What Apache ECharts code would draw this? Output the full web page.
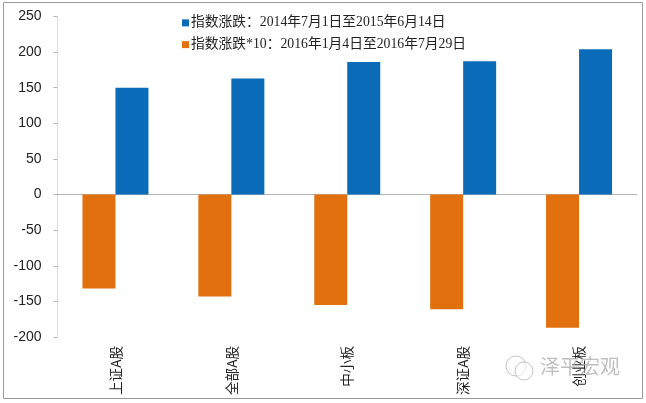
<!DOCTYPE html>
<html><head><meta charset="utf-8">
<style>html,body{margin:0;padding:0;background:#fff}#c{width:646px;height:403px}</style>
<script src="https://cdn.jsdelivr.net/npm/echarts@6/dist/echarts.min.js"></script>
</head><body><div id="c"></div>
<script>
const categories = ['上证A股','全部A股','中小板','深证A股','创业板'];
const blueValues = [150,163,186,187,204];
const orangeValues = [-132,-143,-155,-161,-187];
const blueName = '指数涨跌：2014年7月1日至2015年6月14日';
const orangeName = '指数涨跌*10：2016年1月4日至2016年7月29日';
const cjkSerif = '"Liberation Serif","Noto Sans CJK SC",serif';
const chart = echarts.init(document.getElementById('c'), null, {renderer:'canvas'});
chart.setOption({
  animation:false,
  backgroundColor:'#fff',
  grid:{left:57.5,right:9,top:16.5,bottom:66},
  legend:{
    orient:'vertical',left:177,top:11,itemWidth:7,itemHeight:7,itemGap:8,icon:'rect',
    data:[blueName,orangeName],
    textStyle:{fontFamily:cjkSerif,fontSize:13.75,color:'#222',padding:[0,0,0,-3]}
  },
  xAxis:[
    {type:'category',data:categories,position:'bottom',
     axisLine:{show:false,onZero:false},axisTick:{show:false},
     axisLabel:{rotate:90,margin:9,fontSize:13.6,color:'#222',fontFamily:'"Noto Sans CJK SC",sans-serif',interval:0}},
    {type:'category',data:categories,
     axisLine:{show:true,onZero:true,lineStyle:{color:'#b5b5b5',width:1}},
     axisTick:{show:false},axisLabel:{show:false}}
  ],
  yAxis:{type:'value',min:-200,max:250,interval:50,
    axisLine:{show:true,lineStyle:{color:'#dcdcdc'}},
    axisTick:{show:true,length:4,lineStyle:{color:'#b5b5b5'}},
    splitLine:{show:false},
    axisLabel:{fontSize:14,margin:16,color:'#222',fontFamily:'"Liberation Sans",Arial,sans-serif'}},
  series:[
    {name:orangeName,type:'bar',data:orangeValues,barWidth:33,barGap:'0%',itemStyle:{color:'#E3700F'}},
    {name:blueName,type:'bar',data:blueValues,barWidth:33,barGap:'0%',itemStyle:{color:'#0A6BB8'}}
  ],
  graphic:[
    {type:'rect',silent:true,z:-1,shape:{x:3.5,y:2.5,width:639,height:396},style:{fill:'none',stroke:'#9a9a9a',lineWidth:1}},
    {type:'text',silent:true,z:10,left:540,top:356,style:{text:'泽平宏观',fill:'rgba(170,170,170,0.75)',fontSize:20,fontFamily:'"Noto Sans CJK SC",sans-serif'}},
    {type:'circle',silent:true,z:10,shape:{cx:516,cy:366,r:10},style:{fill:'none',stroke:'rgba(170,170,170,0.7)',lineWidth:1}},
    {type:'circle',silent:true,z:10,shape:{cx:524,cy:371,r:9},style:{fill:'rgba(255,255,255,0.6)',stroke:'rgba(170,170,170,0.7)',lineWidth:1}}
  ]
});
</script></body></html>
